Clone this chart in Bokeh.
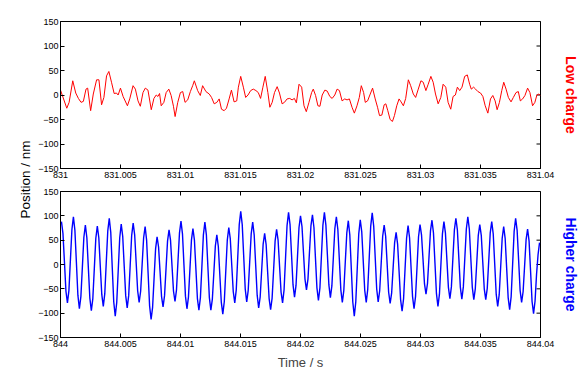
import math
import numpy as np
from bokeh.plotting import figure
from bokeh.layouts import row, column
from bokeh.models import Range1d, LinearAxis, FixedTicker, Label
from bokeh.embed import file_html
from bokeh.resources import INLINE

# ---------------- data ----------------
x_tick_ms = [0, 5, 10, 15, 20, 25, 30, 35, 40]
top_tick_labels = ["831", "831.005", "831.01", "831.015", "831.02", "831.025", "831.03", "831.035", "831.04"]
bottom_tick_labels = ["844", "844.005", "844.01", "844.015", "844.02", "844.025", "844.03", "844.035", "844.04"]
y_ticks = [-150, -100, -50, 0, 50, 100, 150]

# Low charge trace: time offset from 831 s (ms) and position (nm)
red_t_ms = [0.0, 0.524, 0.718, 1.021, 1.270, 1.491, 1.712, 1.905, 2.126, 2.264,
            2.512, 2.733, 3.009, 3.202, 3.423, 3.616, 3.837, 4.030, 4.251, 4.472,
            4.665, 4.803, 4.997, 5.217, 5.576, 5.770, 6.046, 6.239, 6.460, 6.653,
            6.874, 7.067, 7.288, 7.564, 7.785, 7.978, 8.116, 8.254, 8.392, 8.613,
            8.806, 9.027, 9.220, 9.414, 9.552, 9.772, 9.993, 10.187, 10.380, 10.601,
            10.822, 11.015, 11.153, 11.429, 11.650, 11.843, 12.119, 12.395, 12.588, 12.809,
            13.030, 13.223, 13.416, 13.637, 13.831, 14.051, 14.245, 14.465, 14.686, 14.824,
            15.018, 15.238, 15.432, 15.625, 15.846, 16.067, 16.287, 16.481, 16.674, 16.867,
            17.061, 17.281, 17.447, 17.640, 17.834, 18.054, 18.248, 18.468, 18.662, 18.882,
            19.103, 19.297, 19.490, 19.656,
            19.877, 20.098, 20.291, 20.484, 20.705, 20.926, 21.064, 21.257, 21.451, 21.616,
            21.809, 22.030, 22.223, 22.444, 22.638, 22.858, 23.052, 23.245, 23.466, 23.687,
            23.880, 24.073, 24.294, 24.487, 24.708, 24.901, 25.067, 25.260, 25.398, 25.592,
            25.812, 26.006, 26.226, 26.420, 26.585, 26.779, 26.972, 27.110, 27.275, 27.469,
            27.662, 27.828, 28.021, 28.214, 28.380, 28.573, 28.766, 28.987, 29.180, 29.401,
            29.594, 29.815, 30.036, 30.229, 30.450, 30.643, 30.864, 31.057, 31.251, 31.471,
            31.692, 31.885, 32.106, 32.300, 32.520, 32.714, 32.907, 33.073, 33.266, 33.459,
            33.680, 33.901, 34.094, 34.232, 34.426, 34.591, 34.784, 35.005, 35.198, 35.392,
            35.612, 35.833, 36.026, 36.220, 36.385, 36.578, 36.772, 36.937, 37.131, 37.324,
            37.545, 37.738, 37.959, 38.152, 38.318, 38.511, 38.704, 38.925, 39.118, 39.339,
            39.532, 39.698, 39.864, 40.0]
red_nm = [10, -27, -15, 29, 4, -7, -15, -13, 12, 14,
          -32, 2, 31, 31, -20, -5, 39, 48, 26, 3,
          4, 0, 14, -3, -22, -8, 19, 12, -12, -23,
          5, 14, 10, -30, -7, 0, -3, 3, -22, -15,
          5, 12, -1, -23, -44, -15, 5, 7, -15, -10,
          7, 19, 29, 9, -1, 19, 7, 2, -5, -18,
          -15, -8, -29, -32, -27, -8, 10, -14, -12, 16,
          38, 16, -5, 0, 9, 12, 9, 5, -7, 16,
          38, 5, -25, -15, 5, 17, 4, -18, -15, -8,
          -7, -10, -7, -16,
          22, 16, -22, -34, -15, 5, 12, -1, -22, -23,
          0, 10, 8, -3, -7, 0, 12, 9, -12, -8,
          -10, -8, -25, -37, -22, -5, 19, 5, -15, -12,
          2, 14, -8, -25, -42, -41, -20, -18, -32, -50,
          -54, -42, -22, -8, -14, -22, -7, 31, 19, 2,
          -5, 12, 29, 26, 9, 22, 38, 26, 2, -18,
          -5, 22, 16, -15, -29, -3, 0, 16, 9, 16,
          38, 41, 22, 12, 16, 12, 7, 4, -3, -22,
          -37, -8, -1, -12, -30, -15, 9, 26, 12, -5,
          -14, -5, 5, 7, -12, -8, -1, 14, 5, -22,
          -15, 0, 2, -1]

# Higher charge trace: sampled every blue_dt_ms from blue_t0_ms (offset from 844 s),
# eight samples per oscillation cycle
blue_t0_ms = 0.08
blue_dt_ms = 0.1245
blue_nm = [88, 64, 5, -55, -79, -53, 10, 72,
           98, 70, 4, -63, -91, -66, -5, 56,
           81, 55, -7, -69, -95, -70, -8, 54,
           79, 55, -4, -62, -86, -60, 5, 69,
           95, 66, -6, -77, -106, -78, -12, 55,
           83, 58, -3, -64, -89, -64, -2, 60,
           85, 61, 4, -54, -78, -55, 0, 55,
           78, 50, -18, -85, -113, -88, -28, 32,
           57, 36, -15, -66, -87, -64, -8, 48,
           71, 50, -3, -55, -76, -52, 7, 65,
           89, 63, -1, -65, -91, -67, -9, 50,
           74, 50, -10, -70, -94, -68, -4, 61,
           87, 61, -4, -68, -94, -71, -17, 38,
           61, 37, -21, -78, -102, -76, -13, 50,
           76, 53, -2, -56, -79, -52, 15, 82,
           109, 82, 16, -50, -77, -53, 5, 63,
           87, 61, -1, -63, -89, -67, -13, 42,
           64, 41, -15, -70, -93, -69, -11, 48,
           72, 50, -4, -57, -79, -52, 14, 80,
           107, 82, 20, -42, -67, -43, 17, 76,
           100, 78, 24, -30, -52, -30, 25, 80,
           102, 76, 14, -48, -74, -48, 17, 81,
           107, 81, 20, -42, -68, -44, 15, 74,
           98, 72, 10, -52, -78, -53, 6, 65,
           90, 61, -8, -77, -106, -77, -7, 63,
           92, 67, 7, -53, -78, -51, 14, 79,
           106, 79, 15, -50, -77, -54, 2, 58,
           81, 58, 1, -57, -80, -59, -7, 45,
           66, 42, -15, -72, -96, -70, -8, 54,
           80, 55, -6, -66, -91, -66, -5, 57,
           82, 61, 11, -40, -61, -39, 15, 69,
           91, 65, 3, -60, -86, -61, 1, 63,
           88, 65, 9, -47, -70, -46, 13, 71,
           95, 71, 12, -47, -71, -46, 14, 73,
           98, 73, 13, -47, -72, -50, 5, 60,
           82, 60, 5, -50, -72, -49, 8, 65,
           88, 63, 1, -61, -86, -62, -4, 54,
           78, 53, -8, -68, -93, -66, 1, 68,
           95, 70, 9, -53, -78, -56, -3, 51,
           73, 48, -14, -76, -101, -75, -20, 20,
           45]
blue_t_ms = blue_t0_ms + blue_dt_ms * np.arange(len(blue_nm))

FONT = "Liberation Sans"
X_MIN, X_MAX = x_tick_ms[0], x_tick_ms[-1]
Y_MIN, Y_MAX = y_ticks[0], y_ticks[-1]


def style_axis(ax, standoff):
    ax.major_tick_in = 4
    ax.major_tick_out = 0
    ax.minor_tick_in = 0
    ax.minor_tick_out = 0
    ax.axis_line_color = "black"
    ax.major_tick_line_color = "black"
    ax.major_label_text_font = FONT
    ax.major_label_text_color = "black"
    ax.major_label_text_font_size = "9px"
    ax.major_label_standoff = standoff


def make_panel(t, y, color, lw, tick_labels, side_label, h, top_b, bot_b, time_label):
    p = figure(width=548, height=h, x_range=Range1d(X_MIN, X_MAX), y_range=Range1d(Y_MIN, Y_MAX),
               toolbar_location=None, output_backend="svg",
               min_border_left=27, min_border_right=38, min_border_top=top_b, min_border_bottom=bot_b,
               x_axis_type=None, y_axis_type=None)
    p.xgrid.visible = False
    p.ygrid.visible = False
    p.outline_line_color = "black"
    p.outline_line_width = 1
    p.background_fill_color = "white"
    p.border_fill_color = "white"

    xb = LinearAxis(ticker=FixedTicker(ticks=x_tick_ms))
    xb.major_label_overrides = {k: v for k, v in zip(x_tick_ms, tick_labels)}
    style_axis(xb, 3)
    if time_label:
        xb.axis_label = "Time / s"
        xb.axis_label_text_font = FONT
        xb.axis_label_text_font_style = "normal"
        xb.axis_label_text_font_size = "13px"
        xb.axis_label_standoff = 5
    p.add_layout(xb, "below")

    yl = LinearAxis(ticker=FixedTicker(ticks=y_ticks))
    style_axis(yl, 2)
    p.add_layout(yl, "left")

    yr = LinearAxis(ticker=FixedTicker(ticks=[]))
    yr.axis_line_color = None
    yr.major_label_text_font_size = "0px"
    yr.major_label_standoff = 0
    yr.major_tick_out = 0
    yr.major_tick_in = 0
    yr.axis_label = side_label
    yr.axis_label_text_color = color
    yr.axis_label_text_font = FONT
    yr.axis_label_text_font_style = "bold"
    yr.axis_label_text_font_size = "14px"
    yr.axis_label_standoff = 22
    p.add_layout(yr, "right")

    # mirrored inward ticks on top and right edges (half of each dash is clipped by the frame)
    p.scatter(x_tick_ms, [Y_MAX] * len(x_tick_ms), marker="dash", size=8, angle=math.pi / 2,
              line_color="black", line_width=1)
    p.scatter([X_MAX] * len(y_ticks), y_ticks, marker="dash", size=8,
              line_color="black", line_width=1)

    p.line(t, y, line_color=color, line_width=lw)
    return p


p_top = make_panel(red_t_ms, red_nm, "#ff0000", 1.0, top_tick_labels, "Low charge",
                   186, 21, 18, False)
p_bot = make_panel(blue_t_ms, blue_nm, "#0000ff", 1.4, bottom_tick_labels, "Higher charge",
                   186, 5, 35, True)

p_left = figure(width=33, height=372, x_range=Range1d(0, 33), y_range=Range1d(0, 372),
                toolbar_location=None, output_backend="svg", min_border=0,
                x_axis_type=None, y_axis_type=None)
p_left.xgrid.visible = False
p_left.ygrid.visible = False
p_left.outline_line_color = None
p_left.add_layout(Label(x=24.5, y=193, text="Position / nm", angle=math.pi / 2,
                        text_align="center", text_baseline="middle",
                        text_font=FONT, text_font_size="13.5px", text_color="black"))

layout = row(p_left, column(p_top, p_bot, spacing=0), spacing=0)

open("out.html", "w").write(file_html(layout, INLINE))
